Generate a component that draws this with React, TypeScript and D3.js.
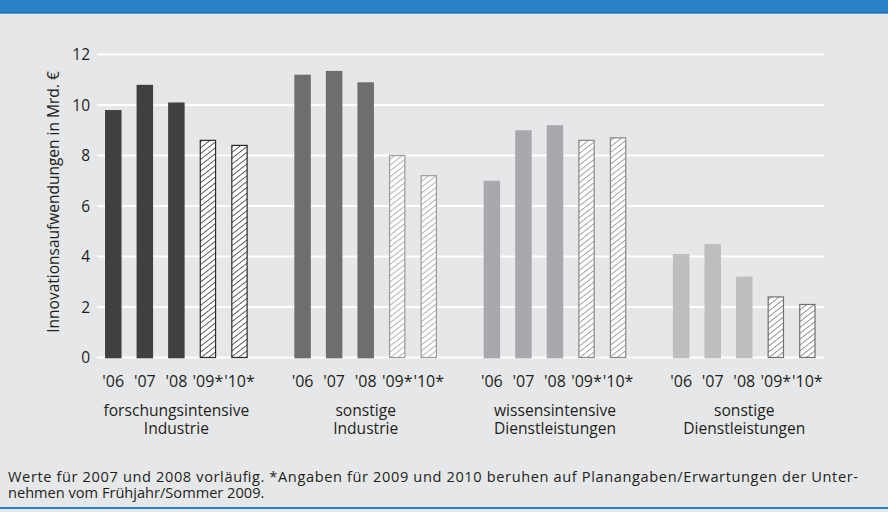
import React from "react";
import * as d3 from "d3";

const groupKeys = ["fi", "si", "wd", "sd"];
const groupLabels = [
  ["forschungsintensive", "Industrie"],
  ["sonstige", "Industrie"],
  ["wissensintensive", "Dienstleistungen"],
  ["sonstige", "Dienstleistungen"],
];
const years = ["'06", "'07", "'08", "'09*", "'10*"];
const projected = [false, false, false, true, true];

const valuesFI = [9.8, 10.8, 10.1, 8.6, 8.4];
const valuesSI = [11.2, 11.35, 10.9, 8.0, 7.2];
const valuesWD = [7.0, 9.0, 9.2, 8.6, 8.7];
const valuesSD = [4.1, 4.5, 3.2, 2.4, 2.1];
const seriesValues = [valuesFI, valuesSI, valuesWD, valuesSD];

const yTicks = [0, 2, 4, 6, 8, 10, 12];

const groupFill = ["#404041", "#6d6e70", "#a7a9ac", "#bcbec0"];
const hatchStroke = ["#2b2b2b", "#9a9b9d", "#858789", "#6f7173"];

const yLabel = "Innovationsaufwendungen in Mrd. €";
const footLines = [
  "Werte für 2007 und 2008 vorläufig. *Angaben für 2009 und 2010 beruhen auf Planangaben/Erwartungen der Unter-",
  "nehmen vom Frühjahr/Sommer 2009.",
];

const W = 888;
const H = 512;
const FONT = "'Open Sans', 'Noto Sans', sans-serif";

export default function App() {
  const groupStep = 189.3;
  const x0 = d3
    .scaleBand<string>()
    .domain(groupKeys)
    .range([97.5, 97.5 + groupStep * groupKeys.length]);
  const x1 = d3
    .scaleBand<string>()
    .domain(years)
    .range([0, (groupStep * 5) / 6])
    .paddingInner(0.477)
    .paddingOuter(0.2385);
  const y = d3.scaleLinear().domain([0, 12]).range([357.5, 54.5]);

  const gridX0 = 97;
  const gridX1 = 824;

  return (
    <svg
      width={W}
      height={H}
      style={{ position: "absolute", left: 0, top: 0, display: "block" }}
      fontFamily={FONT}
    >
      <defs>
        {groupKeys.map((k, i) => (
          <pattern
            key={k}
            id={`hatch-${k}`}
            patternUnits="userSpaceOnUse"
            width={6}
            height={4.6}
            patternTransform="rotate(-38)"
          >
            <rect width={6} height={4.6} fill="#ffffff" />
            <line x1={0} y1={0.5} x2={6} y2={0.5} stroke={hatchStroke[i]} strokeWidth={0.8} />
          </pattern>
        ))}
      </defs>
      <rect x={0} y={0} width={W} height={H} fill="#e6e7e8" />
      {/* header */}
      <rect x={0} y={0} width={W} height={13} fill="#2a83c7" />
      <rect x={0} y={12} width={W} height={1.6} fill="#1670b7" />
      {/* bottom line */}
      <rect x={0} y={507} width={W} height={2} fill="#2a83c7" />

      {/* gridlines */}
      {yTicks.map((t) => (
        <line
          key={t}
          x1={gridX0}
          x2={gridX1}
          y1={y(t)}
          y2={y(t)}
          stroke="#ffffff"
          strokeWidth={1.8}
        />
      ))}
      {/* y tick labels */}
      {yTicks.map((t) => (
        <text
          key={"l" + t}
          x={90}
          y={y(t) + 5.5}
          textAnchor="end"
          fontSize={15.5}
          fill="#231f20"
        >
          {t}
        </text>
      ))}
      <text
        transform={`translate(59,202) rotate(-90)`}
        textAnchor="middle"
        fontSize={15.5}
        fill="#231f20"
      >
        {yLabel}
      </text>

      {/* bars */}
      {groupKeys.map((k, gi) => {
        const gx = x0(k) as number;
        return (
          <g key={k} transform={`translate(${gx},0)`}>
            {years.map((yr, yi) => {
              const v = seriesValues[gi][yi];
              const bx = x1(yr) as number;
              const bw = x1.bandwidth();
              if (projected[yi]) {
                return (
                  <rect
                    key={yr}
                    x={bx + 0.6}
                    y={y(v)}
                    width={bw - 1.2}
                    height={y(0) - y(v)}
                    fill={`url(#hatch-${k})`}
                    stroke={hatchStroke[gi]}
                    strokeWidth={1.2}
                  />
                );
              }
              return (
                <rect
                  key={yr}
                  x={bx}
                  y={y(v)}
                  width={bw}
                  height={y(0) - y(v) + 0.8}
                  fill={groupFill[gi]}
                />
              );
            })}
            {years.map((yr) => (
              <text
                key={"t" + yr}
                x={(x1(yr) as number) + x1.bandwidth() / 2}
                y={387}
                textAnchor="middle"
                fontSize={16}
                fill="#231f20"
              >
                {yr}
              </text>
            ))}
            {groupLabels[gi].map((ln, li) => (
              <text
                key={"g" + li}
                x={((x1(years[0]) as number) + (x1(years[4]) as number) + x1.bandwidth()) / 2}
                y={416 + li * 17.5}
                textAnchor="middle"
                fontSize={15.6}
                fill="#231f20"
              >
                {ln}
              </text>
            ))}
          </g>
        );
      })}

      {/* footnote */}
      {footLines.map((ln, i) => (
        <text
          key={"f" + i}
          x={8}
          y={481.5 + i * 16.5}
          fontSize={14.6}
          fill="#231f20"
          {...(i === 0 ? { textLength: 850, lengthAdjust: "spacing" } : {})}
        >
          {ln}
        </text>
      ))}
    </svg>
  );
}
